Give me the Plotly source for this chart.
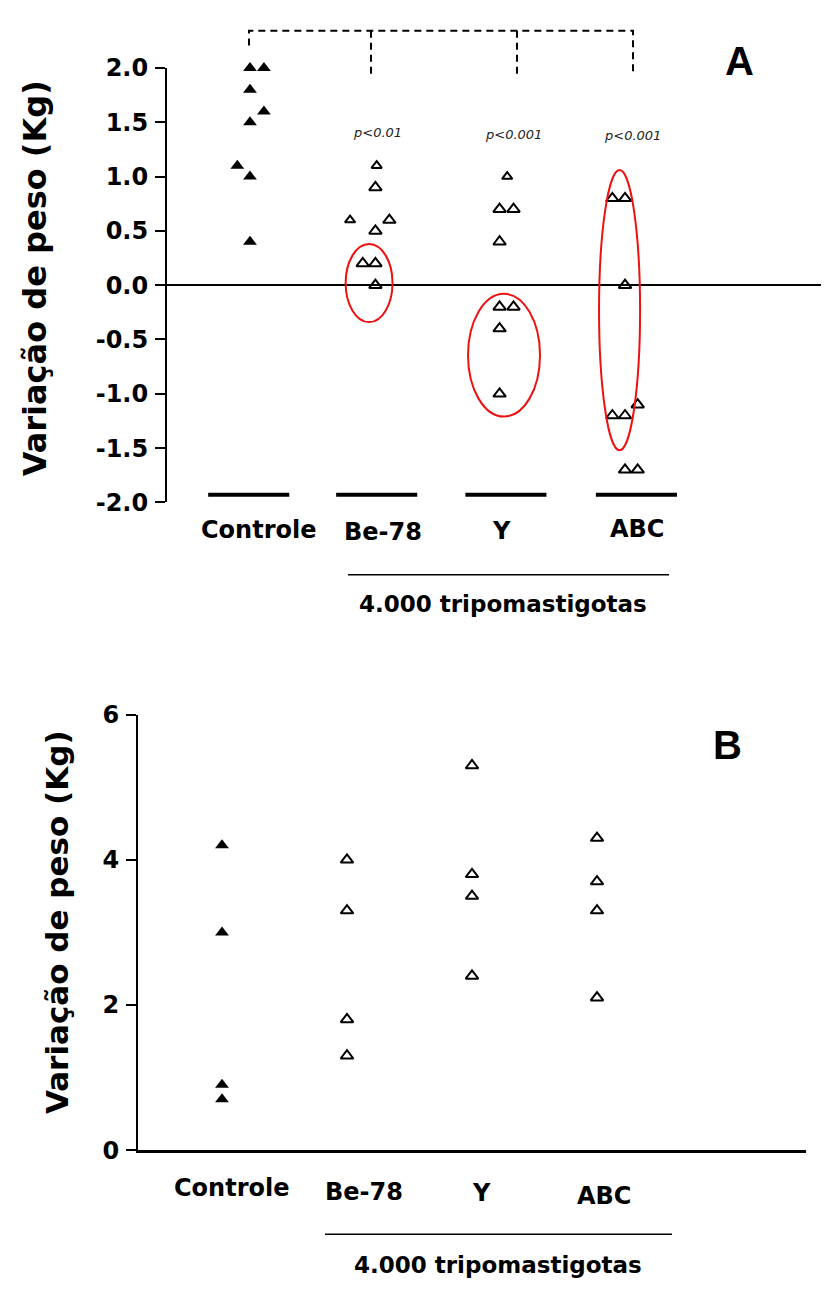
import plotly.graph_objects as go

# ---------------- DATA ----------------
groups = ["Controle", "Be-78", "Y", "ABC"]

# Panel A: variação de peso (Kg)
a_controle = [2.0, 2.0, 1.8, 1.6, 1.5, 1.1, 1.0, 0.4]
a_be78 = [1.1, 0.9, 0.6, 0.6, 0.5, 0.2, 0.2, 0.0]
a_y = [1.0, 0.7, 0.7, 0.4, -0.2, -0.2, -0.4, -1.0]
a_abc = [0.8, 0.8, 0.0, -1.1, -1.2, -1.2, -1.7, -1.7]

# Panel B: variação de peso (Kg)
b_controle = [4.2, 3.0, 0.9, 0.7]
b_be78 = [4.0, 3.3, 1.8, 1.3]
b_y = [5.3, 3.8, 3.5, 2.4]
b_abc = [4.3, 3.7, 3.3, 2.1]

p_labels = ["p<0.01", "p<0.001", "p<0.001"]
p_groups = ["Be-78", "Y", "ABC"]

yticks_a = [-2.0, -1.5, -1.0, -0.5, 0.0, 0.5, 1.0, 1.5, 2.0]
yticks_b = [0, 2, 4, 6]

ytitle = "Variação de peso (Kg)"
group_caption = "4.000 tripomastigotas"

# ---------------- POSITIONS / STYLE ----------------
W, H = 829, 1296
OX, OY = -8, -8          # compensate the page's default body margin


def px(x):
    return (x + OX) / W


def py(y):
    return 1 - (y + OY) / H


pos = {g: i + 1 for i, g in enumerate(groups)}
jit_a = {
    "Controle": [0, 0.11, 0, 0.11, 0, -0.10, 0, 0],
    "Be-78": [0, -0.01, -0.21, 0.10, -0.01, -0.11, -0.01, -0.01],
    "Y": [0.03, -0.03, 0.08, -0.03, -0.03, 0.08, -0.03, -0.03],
    "ABC": [-0.14, -0.04, -0.04, 0.06, -0.14, -0.04, -0.04, 0.06],
}
# marker sizes (a few symbols are drawn smaller in the original)
size_a = {
    "Controle": [12] * 8,
    "Be-78": [9, 11, 9, 11, 11, 11, 11, 11],
    "Y": [9, 11, 11, 11, 11, 11, 11, 11],
    "ABC": [11] * 8,
}
vals_a = dict(zip(groups, [a_controle, a_be78, a_y, a_abc]))
vals_b = dict(zip(groups, [b_controle, b_be78, b_y, b_abc]))

bar_level_a = -1.93
bar_shift = [-0.01, 0.0, 0.02, 0.05]
bar_half = 0.32

# ellipse (group, x-center shift, half width, top, bottom)
ellipses = [("Be-78", -0.06, 0.185, 0.38, -0.34),
            ("Y", 0.005, 0.284, -0.08, -1.21),
            ("ABC", -0.083, 0.162, 1.06, -1.52)]

BOLD = "DejaVu Sans"
fig = go.Figure()


def tri(filled, size):
    return dict(symbol="triangle-up" if filled else "triangle-up-open",
                size=size, color="black", opacity=1,
                line=dict(color="black", width=0 if filled else 2))


# ---- Panel A markers ----
for g in groups:
    fig.add_trace(go.Scatter(
        x=[pos[g] + j for j in jit_a[g]], y=vals_a[g], mode="markers",
        marker=tri(g == "Controle", size_a[g]), cliponaxis=False, showlegend=False,
        xaxis="x", yaxis="y"))

# bars at the bottom of panel A
bx, by = [], []
for g, s in zip(groups, bar_shift):
    c = pos[g] + s
    bx += [c - bar_half, c + bar_half, None]
    by += [bar_level_a, bar_level_a, None]
fig.add_trace(go.Scatter(x=bx, y=by, mode="lines", line=dict(color="black", width=4),
                         cliponaxis=False, showlegend=False, xaxis="x", yaxis="y"))

# ---- Panel B markers ----
for g in groups:
    fig.add_trace(go.Scatter(
        x=[pos[g]] * len(vals_b[g]), y=vals_b[g], mode="markers",
        marker=tri(g == "Controle", 12 if g == "Controle" else 11),
        cliponaxis=False, showlegend=False, xaxis="x2", yaxis="y2"))

# ---- shapes ----
shapes = []
for g, sh, hw, t, b in ellipses:
    c = pos[g] + sh
    shapes.append(dict(type="circle", xref="x", yref="y", x0=c - hw, x1=c + hw,
                       y0=b, y1=t, line=dict(color="#ee1111", width=2)))

dash = dict(color="black", width=2, dash="7px,5px")
# dashed comparison bracket (reference pixel geometry)
shapes.append(dict(type="path", xref="paper", yref="paper", line=dash,
                   path=f"M {px(249)},{py(32)} L {px(249)},{py(17)} L {px(633)},{py(17)} L {px(633)},{py(60)}"))
for xx, yb in [(371, 63), (517, 62)]:
    shapes.append(dict(type="line", xref="paper", yref="paper", line=dash,
                       x0=px(xx), x1=px(xx), y0=py(17), y1=py(yb)))
# caption underlines
shapes.append(dict(type="line", xref="paper", yref="paper", line=dict(color="black", width=1.5),
                   x0=px(348), x1=px(669), y0=py(573), y1=py(573)))
shapes.append(dict(type="line", xref="paper", yref="paper", line=dict(color="black", width=1.5),
                   x0=px(325), x1=px(672), y0=py(1247), y1=py(1247)))

# ---- annotations ----
ann = []


def text(x, y, s, size, family=BOLD, weight="bold", style="normal", angle=0, color="black"):
    ann.append(dict(x=px(x), y=py(y), xref="paper", yref="paper", text=s, showarrow=False,
                    xanchor="center", yanchor="middle", textangle=angle,
                    font=dict(family=family, size=size, color=color, weight=weight, style=style)))


for g, (x, y) in zip(groups, [(259, 527), (383, 529), (501, 528), (637, 526)]):
    text(x, y, g, 24)
text(503, 603, group_caption, 23)
for t, (x, y) in zip(p_labels, [(377, 121), (514, 123), (632, 124)]):
    text(x, y, t, 13, family="DejaVu Sans", weight="normal", style="italic", color="#222")
text(739, 48, "A", 40, family="Liberation Sans")
text(35, 270, ytitle, 32, angle=-90)

for g, (x, y) in zip(groups, [(232, 1200), (364, 1204), (481, 1205), (604, 1208)]):
    text(x, y, g, 24)
text(498, 1278, group_caption, 23)
text(727, 747, "B", 40, family="Liberation Sans")
text(57, 928, ytitle, 31, angle=-90)

tickfont = dict(family=BOLD, size=24, color="black", weight="bold")
fig.update_layout(
    width=W, height=H, margin=dict(l=0, r=0, t=0, b=0),
    paper_bgcolor="white", plot_bgcolor="white", showlegend=False,
    shapes=shapes, annotations=ann,
    xaxis=dict(domain=[px(167), px(829)], range=[0.345, 5.570], visible=False,
               showgrid=False, zeroline=False, anchor="y"),
    yaxis=dict(domain=[py(499), py(55)], range=[-2, 2], anchor="x",
               showline=True, linewidth=2, linecolor="black",
               ticks="outside", ticklen=10, tickwidth=2, tickcolor="black",
               tickvals=yticks_a, ticktext=[f"{v:.1f}" for v in yticks_a],
               tickfont=tickfont, ticklabelstandoff=2,
               showgrid=False, zeroline=True, zerolinecolor="black", zerolinewidth=2),
    xaxis2=dict(domain=[px(138), px(806)], range=[0.328, 5.672], anchor="y2",
                showline=True, linewidth=2.5, linecolor="black", showticklabels=False,
                ticks="", showgrid=False, zeroline=False),
    yaxis2=dict(domain=[py(1161), py(716)], range=[0, 6], anchor="x2",
                showline=True, linewidth=2, linecolor="black",
                ticks="outside", ticklen=10, tickwidth=2, tickcolor="black",
                tickvals=yticks_b, ticktext=[str(v) for v in yticks_b],
                tickfont=tickfont, ticklabelstandoff=2,
                showgrid=False, zeroline=False),
)

fig.write_html("out.html")
